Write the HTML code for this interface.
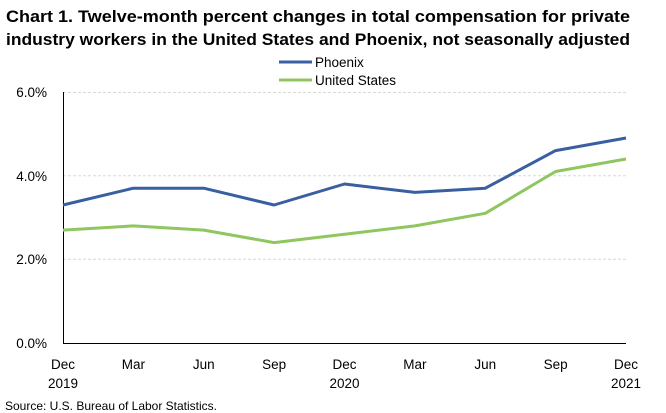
<!DOCTYPE html>
<html><head><meta charset="utf-8"><style>
html,body{margin:0;padding:0;background:#fff;}
svg{display:block;font-family:"Liberation Sans",Arial,sans-serif;}
</style></head><body>
<svg width="666" height="413" viewBox="0 0 666 413" xmlns="http://www.w3.org/2000/svg">
<rect width="666" height="413" fill="#fff"/>
<text x="6" y="22" font-size="16.5" font-weight="bold" fill="#000" textLength="624" lengthAdjust="spacingAndGlyphs">Chart 1. Twelve-month percent changes in total compensation for private</text>
<text x="6" y="45" font-size="16.5" font-weight="bold" fill="#000" textLength="624" lengthAdjust="spacingAndGlyphs">industry workers in the United States and Phoenix, not seasonally adjusted</text>
<line x1="279" y1="62" x2="312" y2="62" stroke="#3a5fa0" stroke-width="3"/>
<text x="315" y="67" font-size="13.5" fill="#000">Phoenix</text>
<line x1="279" y1="80" x2="312" y2="80" stroke="#8fc65f" stroke-width="3"/>
<text x="315" y="85" font-size="13.5" fill="#000">United States</text>
<g stroke="#d8d8d8" stroke-dasharray="3,2" stroke-width="1">
<line x1="63" y1="92.5" x2="626" y2="92.5"/>
<line x1="63" y1="175.7" x2="626" y2="175.7"/>
<line x1="63" y1="259.3" x2="626" y2="259.3"/>
</g>
<line x1="63.5" y1="92" x2="63.5" y2="343" stroke="#000" stroke-width="1"/>
<line x1="63" y1="343.5" x2="626" y2="343.5" stroke="#000" stroke-width="1"/>
<g font-size="13.5" fill="#000" text-anchor="end">
<text x="47" y="97">6.0%</text>
<text x="47" y="181">4.0%</text>
<text x="47" y="264">2.0%</text>
<text x="47" y="348">0.0%</text>
</g>
<g font-size="13.5" fill="#000" text-anchor="middle">
<text x="63" y="369">Dec</text><text x="63" y="388">2019</text>
<text x="133.4" y="369">Mar</text>
<text x="203.8" y="369">Jun</text>
<text x="274.1" y="369">Sep</text>
<text x="344.5" y="369">Dec</text><text x="344.5" y="388">2020</text>
<text x="414.9" y="369">Mar</text>
<text x="485.3" y="369">Jun</text>
<text x="555.6" y="369">Sep</text>
<text x="626" y="369">Dec</text><text x="626" y="388">2021</text>
</g>
<polyline fill="none" stroke="#8fc65f" stroke-width="3" stroke-linejoin="round" points="63,230.1 133.4,225.9 203.8,230.1 274.1,242.6 344.5,234.2 414.9,225.9 485.3,213.3 555.6,171.5 626,159"/>
<polyline fill="none" stroke="#3a5fa0" stroke-width="3" stroke-linejoin="round" points="63,205 133.4,188.2 203.8,188.2 274.1,205 344.5,184 414.9,192.4 485.3,188.2 555.6,150.6 626,138"/>
<text x="5" y="410" font-size="12" fill="#000" textLength="212" lengthAdjust="spacingAndGlyphs">Source: U.S. Bureau of Labor Statistics.</text>
</svg>
</body></html>
